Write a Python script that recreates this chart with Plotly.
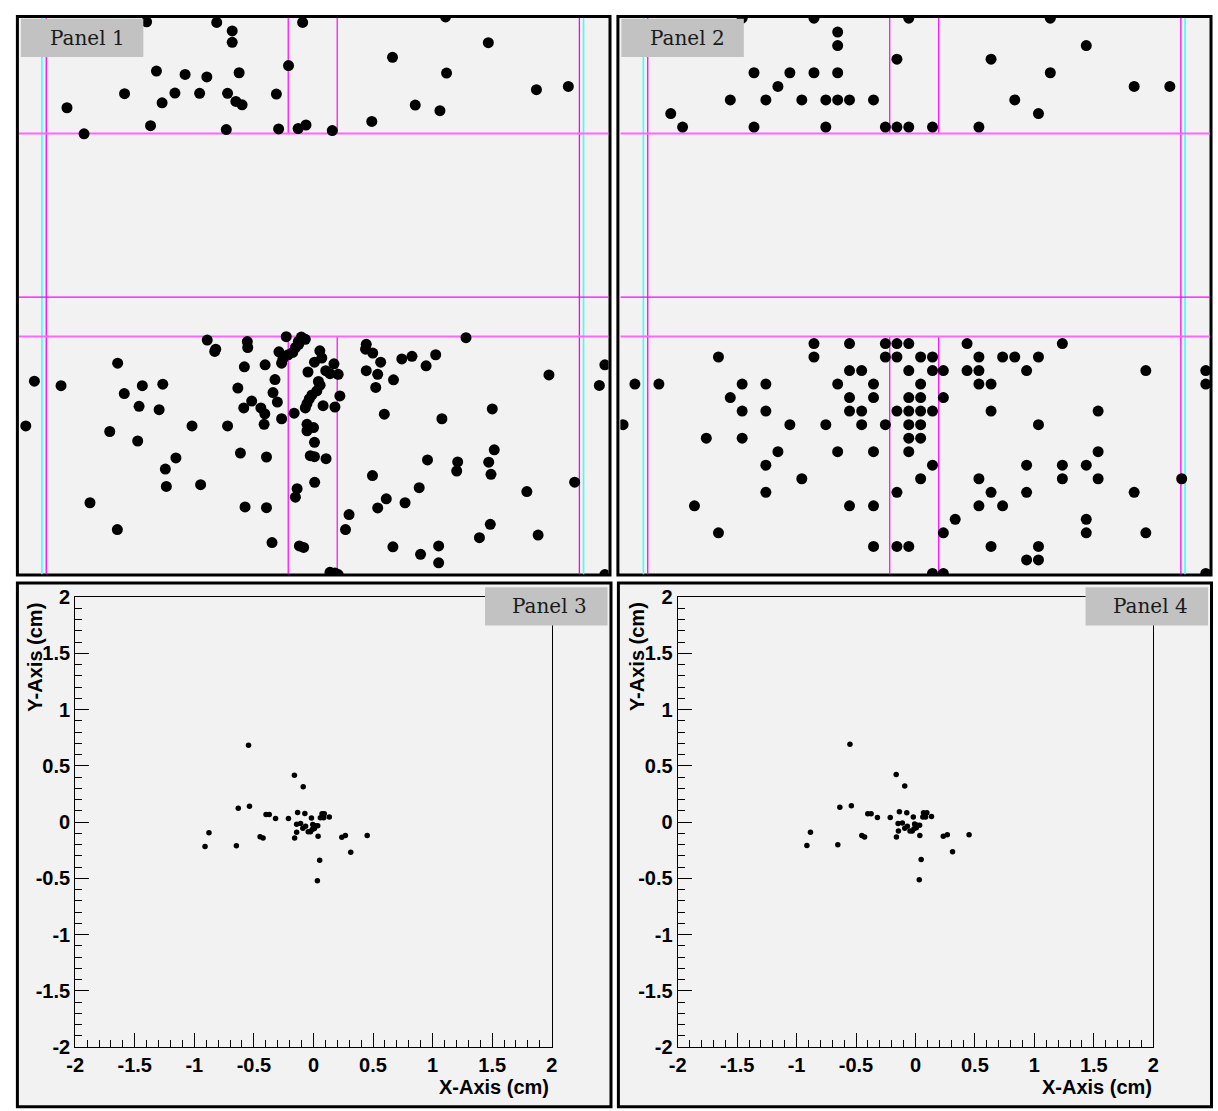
import plotly.graph_objects as go

W, H = 1218, 1111

# ---------------- data ----------------
# Panel 1 (zoomed view, arbitrary units; x to the right, y downward)
p1_x = [129.3, 200.3, 216, 216, 287.3, 273, 139.3, 168.3, 190.3, 223, 107, 158, 183, 211.3, 260.7,
        145, 219.7, 226, 48.7, 133.3, 210, 263, 282.7, 290.7, 66, 432, 475.3, 378.3, 433, 524,
        556.3, 401.3, 426.3, 357.3, 317.3,
        190.7, 199.3, 198.3, 231.3, 231.7, 270.7, 286, 290, 283, 283.3, 280, 277.3, 272.7, 263.3,
        267.3, 266, 304.7, 299.3, 100, 228.3, 249.3, 292.7, 310.7, 15.7, 42.7, 125, 145.7, 106.7,
        259.3, 303.3, 221.7, 257.3, 301.7, 296.7, 294, 235.7, 261.7, 121.7, 142, 227.7, 245, 249,
        291.7, 290, 308, 278.7, 266, 7, 175.3, 211.3, 248.3, 291.7, 298.3, 291.7, 92, 120.3, 299.3,
        159, 148.3, 224.3, 250.7, 295, 299.3, 311, 149.3, 184, 281.7, 280, 299.5, 72, 229, 250.7,
        99.7, 256.3, 284, 288.3,
        452.7, 306.7, 351.7, 351, 358.3, 366.3, 387.7, 398, 422, 412.3, 319, 315, 323.3, 351.7,
        363.3, 379.3, 361.3, 536.7, 593.3, 587.7, 305, 325, 320, 370, 428.3, 479.3, 413.7, 444.3,
        443.3, 475.7, 481.3, 478, 358, 562.7, 514.3, 405.3, 372, 363.3, 391, 334.3, 330.7, 477.3,
        466.3, 525.7, 378.7, 425, 406.7, 425, 315, 320, 323.3, 593.3]
p1_y = [4, 4.7, 13.3, 25, 4.7, 48.7, 54.3, 57.7, 60.3, 56, 77.3, 76.7, 77, 77, 77.7,
        86.7, 85.3, 88.7, 91.7, 110, 114, 113.3, 113, 109.3, 118.3, -1, 25.3, 40.3, 56.3, 73.3,
        70, 89, 94.7, 105.7, 115,
        328.7, 338, 340.3, 330.3, 336.3, 325.3, 325.7, 328, 330, 333, 336.3, 341.3, 343.7, 340.7,
        348, 352.3, 339.7, 351.3, 352.3, 356, 354, 361.3, 360, 370.7, 375.3, 375.3, 373.7, 383.3,
        369, 371, 377.7, 382.3, 380.5, 384.7, 388.8, 391, 392, 396.3, 399.7, 398, 398, 404,
        393.5, 398, 395.7, 403.3, 409, 416.3, 416.3, 416.3, 414.7, 414.7, 418, 421.3, 422, 431.7, 433,
        449, 460.3, 444, 448, 446.7, 447.7, 449.7, 478, 476.3, 480.3, 489, 473.8, 494.7, 499, 499.7,
        522, 535.3, 538.7, 540.3,
        326.3, 347, 333, 338, 342, 351.3, 348, 345.3, 343.7, 355, 353, 363, 363.7, 360,
        363.7, 369.3, 377, 364.3, 354, 375, 374.7, 385.7, 397, 404.3, 409, 399, 451, 453,
        462.3, 453.3, 440.7, 465.7, 467, 473.7, 483.3, 479.3, 490.7, 500, 494.7, 506.7, 522, 516.7,
        530.3, 527.7, 539.7, 538.7, 547.3, 556, 565.7, 566.3, 568, 568]

# Panel 2 (same view, hits snapped to the pixel grid)
p2_x = [123.3, 196, 292, 435.3,
        220,
        220, 471.7,
        280, 375.3,
        135.3, 171.6, 196, 220, 435.3,
        159.5, 520.2, 556.3,
        111.3, 147.3, 183.7, 208, 220, 232, 256.3, 399.3,
        51, 423.3,
        63, 135.3, 208, 268.3, 280, 292, 316, 363,
        196, 232, 268.3, 280, 292, 351, 447.5,
        99.3, 196, 268.3, 280, 304, 316, 363, 387, 399.3, 423.3,
        232, 244.3, 292, 316, 327, 351, 363, 411.3, 532, 592.7,
        14.7, 39, 123.3, 147.3, 220, 256.3, 304, 363, 375.3, 592.7,
        111.3, 232, 256.3, 292, 304, 327,
        123.3, 147.3, 232, 244.3, 280, 292, 304, 316, 375.3, 483.7,
        2.7, 171.6, 208, 244.3, 268.3, 292, 304, 423.3,
        87, 123.3, 292, 304,
        159.5, 220, 256.3, 292, 483.7,
        147.3, 316, 411.3, 447.5, 471.7,
        183.7, 304, 363, 447.5, 483.7, 568.3,
        147.3, 280, 375.3, 411.3, 520.2,
        75, 232, 256.3, 363, 387,
        339, 471.7,
        99.3, 327, 471.7, 532,
        256.3, 280, 292, 375.3, 423.3,
        411.3, 423.3,
        316, 327, 592.7]
p2_y = [0.3, 0.3, 0.3, 0.3,
        14.5,
        28.3, 28.3,
        42.2, 42.2,
        56, 56, 56, 56, 56,
        70, 70, 70,
        83.7, 83.7, 83.7, 83.7, 83.7, 83.7, 83.7, 83.7,
        97.6, 97.6,
        111.4, 111.4, 111.4, 111.4, 111.4, 111.4, 111.4, 111.4,
        332.3, 332.3, 332.3, 332.3, 332.3, 332.3, 332.3,
        346, 346, 346, 346, 346, 346, 346, 346, 346, 346,
        359.8, 359.8, 359.8, 359.8, 359.8, 359.8, 359.8, 359.8, 359.8, 359.8,
        373.6, 373.6, 373.6, 373.6, 373.6, 373.6, 373.6, 373.6, 373.6, 373.6,
        387.4, 387.4, 387.4, 387.4, 387.4, 387.4,
        401.2, 401.2, 401.2, 401.2, 401.2, 401.2, 401.2, 401.2, 401.2, 401.2,
        415, 415, 415, 415, 415, 415, 415, 415,
        428.8, 428.8, 428.8, 428.8,
        442.6, 442.6, 442.6, 442.6, 442.6,
        456.4, 456.4, 456.4, 456.4, 456.4,
        470.2, 470.2, 470.2, 470.2, 470.2, 470.2,
        484, 484, 484, 484, 484,
        497.8, 497.8, 497.8, 497.8, 497.8,
        511.6, 511.6,
        525.4, 525.4, 525.4, 525.4,
        539.2, 539.2, 539.2, 539.2, 539.2,
        553, 553,
        566.8, 566.8, 566.8]

# Panel 3 and Panel 4 (cm)
p3_x = [-0.545, -0.160, -0.086, -0.631, -0.537, -0.398, -0.371, -0.318, -0.210, -0.133, -0.072, -0.017,
        0.072, 0.091, 0.058, 0.086, 0.133, -0.141, -0.108, -0.089, -0.066, -0.006, 0.017, 0.036,
        -0.011, 0.008, -0.044, -0.025, -0.141, -0.158, 0.039, -0.448, -0.423, -0.877, -0.910, -0.647,
        0.238, 0.268, 0.451, 0.313, 0.052, 0.033]
p3_y = [0.684, 0.417, 0.315, 0.124, 0.141, 0.068, 0.068, 0.033, 0.033, 0.086, 0.077, 0.036,
        0.074, 0.074, 0.039, 0.039, 0.045, -0.019, -0.013, -0.054, -0.036, -0.022, -0.033, -0.033,
        -0.065, -0.057, -0.085, -0.085, -0.089, -0.141, -0.126, -0.129, -0.141, -0.094, -0.216, -0.211,
        -0.135, -0.120, -0.118, -0.268, -0.338, -0.521]
p4_x = [-0.551, -0.162, -0.090, -0.636, -0.539, -0.401, -0.373, -0.320, -0.212, -0.135, -0.073, -0.018,
        0.068, 0.096, 0.062, 0.085, 0.135, -0.146, -0.110, -0.090, -0.068, -0.007, 0.015, 0.035,
        -0.012, 0.007, -0.046, -0.027, -0.143, -0.160, 0.037, -0.451, -0.428, -0.883, -0.913, -0.653,
        0.234, 0.268, 0.451, 0.312, 0.048, 0.032]
p4_y = [0.693, 0.423, 0.321, 0.132, 0.146, 0.074, 0.074, 0.042, 0.042, 0.092, 0.083, 0.045,
        0.083, 0.083, 0.045, 0.045, 0.051, -0.013, -0.007, -0.054, -0.036, -0.016, -0.028, -0.028,
        -0.059, -0.051, -0.080, -0.080, -0.080, -0.132, -0.120, -0.120, -0.132, -0.089, -0.207, -0.202,
        -0.126, -0.112, -0.112, -0.263, -0.333, -0.512]

# guide lines of the zoomed views (same units as p1/p2)
cyan_x = [23.3, 571.7]
mag_x_full = [27.7, 567.5]
mag_x_inner = [272.7, 322.3]
mag_y_bold = [118, 325]
mag_y_thin = [285]
TOP_W, TOP_H = 597, 568

panel_titles = ["Panel 1", "Panel 2", "Panel 3", "Panel 4"]
axis_ticks = [-2, -1.5, -1, -0.5, 0, 0.5, 1, 1.5, 2]

# ---------------- helpers (window pixel -> paper fraction) ----------------
def px(x):
    return x / W

def py(y):
    return 1 - y / H

fig = go.Figure()

BG = "#f2f2f2"
shapes = []
# pad backgrounds + frames
for x0, x1, y0, y1 in [(8.5, 608.5, 5.5, 575.5), (616.5, 1217, 5.5, 575.5),
                       (8.5, 609.5, 583.5, 1118), (617, 1217.5, 583.5, 1118)]:
    shapes.append(dict(type="rect", xref="paper", yref="paper", x0=px(x0), x1=px(x1),
                       y0=py(y1), y1=py(y0), fillcolor=BG, line=dict(color="black", width=3),
                       layer="below"))

# top panels
for i, (xs, ys) in enumerate([(p1_x, p1_y), (p2_x, p2_y)]):
    n = "" if i == 0 else "2"
    fig.add_trace(go.Scatter(x=xs, y=ys, mode="markers", xaxis="x" + n, yaxis="y" + n,
                             marker=dict(size=11, color="black", line=dict(width=0)),
                             showlegend=False, hoverinfo="skip"))
    xr, yr = "x" + n, "y" + n
    for v in cyan_x:
        shapes.append(dict(type="line", xref=xr, yref=yr, x0=v, x1=v, y0=0, y1=TOP_H,
                           line=dict(color="#40ffff", width=1.6), layer="below"))
    for v in mag_x_full:
        shapes.append(dict(type="line", xref=xr, yref=yr, x0=v, x1=v, y0=0, y1=TOP_H,
                           line=dict(color="#ff00ff", width=1.3), layer="below"))
    for v in mag_x_inner:
        shapes.append(dict(type="line", xref=xr, yref=yr, x0=v, x1=v, y0=0, y1=mag_y_bold[0],
                           line=dict(color="#ff00ff", width=1.2), layer="below"))
        shapes.append(dict(type="line", xref=xr, yref=yr, x0=v, x1=v, y0=mag_y_bold[1], y1=TOP_H,
                           line=dict(color="#ff00ff", width=1.2), layer="below"))
    for v in mag_y_bold:
        shapes.append(dict(type="line", xref=xr, yref=yr, x0=0, x1=TOP_W, y0=v, y1=v,
                           line=dict(color="#ff66ff", width=2), layer="below"))
    for v in mag_y_thin:
        shapes.append(dict(type="line", xref=xr, yref=yr, x0=0, x1=TOP_W, y0=v, y1=v,
                           line=dict(color="#ff00ff", width=1.2), layer="below"))

# bottom panels
for i, (xs, ys) in enumerate([(p3_x, p3_y), (p4_x, p4_y)]):
    n = str(i + 3)
    fig.add_trace(go.Scatter(x=xs, y=ys, mode="markers", xaxis="x" + n, yaxis="y" + n,
                             marker=dict(size=5.5, color="black", line=dict(width=0)),
                             showlegend=False, hoverinfo="skip"))

top_axis = dict(visible=False, showgrid=False, zeroline=False, fixedrange=True)
fig.update_layout(
    xaxis=dict(top_axis, domain=[px(10), px(607)], range=[0, TOP_W], anchor="y"),
    yaxis=dict(top_axis, domain=[py(575), py(7)], range=[TOP_H, 0], anchor="x"),
    xaxis2=dict(top_axis, domain=[px(619), px(1216)], range=[0, TOP_W], anchor="y2"),
    yaxis2=dict(top_axis, domain=[py(575), py(7)], range=[TOP_H, 0], anchor="x2"),
)

tickfont = dict(family="Liberation Sans, Arial, sans-serif", size=20, color="black", weight="bold")
minor = dict(dtick=0.1, ticks="inside", ticklen=7, tickwidth=1, tickcolor="black", showgrid=False)

def bottom_axis(domain, anchor):
    return dict(domain=domain, range=[-2, 2], anchor=anchor, tickmode="array",
                tickvals=axis_ticks, ticktext=[f"{t:g}" for t in axis_ticks],
                ticks="inside", ticklen=14, tickwidth=1, tickcolor="black",
                minor=minor, showline=True, linecolor="black", linewidth=1, mirror=True,
                showgrid=False, zeroline=False, tickfont=tickfont, fixedrange=True)

fig.update_layout(
    xaxis3=bottom_axis([px(67), px(549.5)], "y3"),
    yaxis3=bottom_axis([py(1057), py(598)], "x3"),
    xaxis4=bottom_axis([px(677), px(1158.5)], "y4"),
    yaxis4=bottom_axis([py(1057), py(598)], "x4"),
)

annotations = []
titlefont = dict(family="Liberation Sans, Arial, sans-serif", size=20, color="black", weight="bold")
for xe, yc in [(549, 1098), (1159, 1098)]:
    annotations.append(dict(xref="paper", yref="paper", x=px(xe), y=py(yc), text="X-Axis (cm)",
                            showarrow=False, xanchor="right", yanchor="middle", font=titlefont))
for xc in [26, 636]:
    annotations.append(dict(xref="paper", yref="paper", x=px(xc), y=py(659), text="Y-Axis (cm)",
                            textangle=-90, showarrow=False, xanchor="center", yanchor="middle",
                            font=titlefont))

# panel labels
labelfont = dict(family="DejaVu Serif, Liberation Serif, serif", size=20, color="#1a1a1a")
for title, (x0, x1, y0, y1, tx) in zip(panel_titles, [(12, 136, 8, 47, 79), (620, 744, 8, 47, 687),
                                                     (482, 606, 588, 627, 547), (1090, 1214, 588, 627, 1156)]):
    shapes.append(dict(type="rect", xref="paper", yref="paper", x0=px(x0), x1=px(x1),
                       y0=py(y1), y1=py(y0), fillcolor="#c2c2c2", line=dict(width=0), layer="above"))
    annotations.append(dict(xref="paper", yref="paper", x=px(tx), y=py((y0 + y1) / 2), text=title,
                            showarrow=False, xanchor="center", yanchor="middle", font=labelfont))

fig.update_layout(
    width=W, height=H, autosize=False,
    margin=dict(l=0, r=0, t=0, b=0, pad=0),
    paper_bgcolor="white", plot_bgcolor="rgba(0,0,0,0)",
    shapes=shapes, annotations=annotations, showlegend=False,
)

# remove the default page margin right after the plot call so the 1218x1111
# figure fills the window exactly
fix_page = ("document.documentElement.style.margin='0px';document.body.style.margin='0px';"
            "document.body.style.padding='0px';document.documentElement.style.overflow='hidden';")
fig.write_html("out.html", config={"displayModeBar": False},
               post_script="});" + fix_page + "(function(){" + fix_page)
